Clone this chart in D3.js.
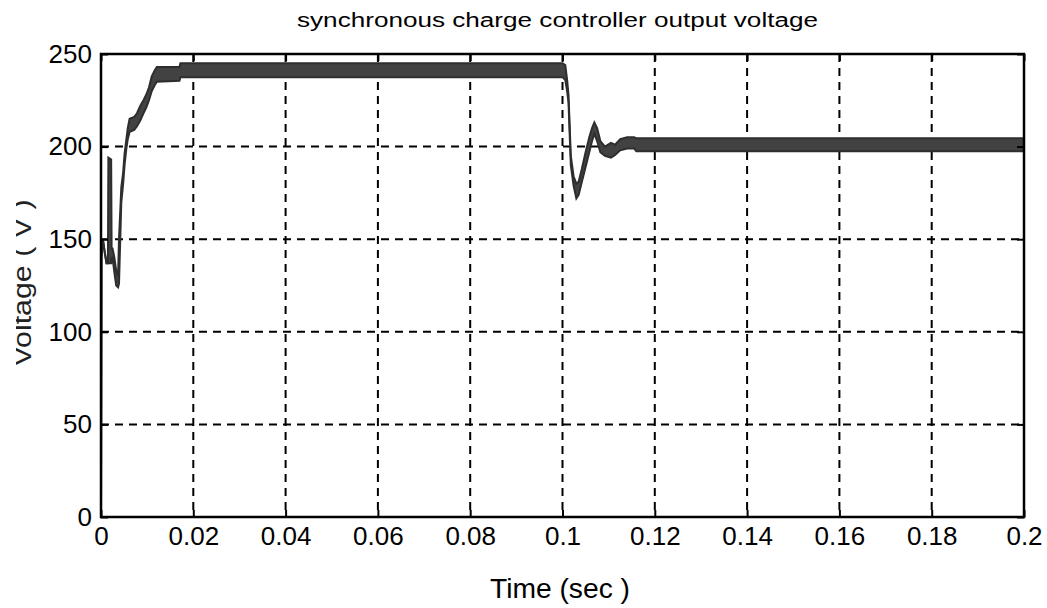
<!DOCTYPE html>
<html><head><meta charset="utf-8">
<script src="https://cdn.jsdelivr.net/npm/d3@7"></script>
<style>html,body{margin:0;padding:0;background:#fff;overflow:hidden}</style>
</head><body><svg id="c" width="1047" height="608"></svg>
<script>
const titleText = "synchronous charge controller output voltage";
const xLabelText = "Time (sec )";
const yLabelText = "Voltage ( V )";
const xTicks = [0, 0.02, 0.04, 0.06, 0.08, 0.1, 0.12, 0.14, 0.16, 0.18, 0.2];
const xTickLabels = ["0", "0.02", "0.04", "0.06", "0.08", "0.1", "0.12", "0.14", "0.16", "0.18", "0.2"];
const yTicks = [0, 50, 100, 150, 200, 250];
const yTickLabels = ["0", "50", "100", "150", "200", "250"];

// time (s) and upper / lower envelope of the output voltage (V)
const time = [0, 0.0001, 0.0004, 0.0008, 0.0012, 0.0015, 0.0016, 0.0022, 0.0023, 0.0025, 0.0029, 0.0033, 0.0037,
  0.0039, 0.0044, 0.0048, 0.0051, 0.0055, 0.0058, 0.0062, 0.0072, 0.0078, 0.0085, 0.0092, 0.0098, 0.0104, 0.0110,
  0.0116, 0.0121, 0.0170, 0.0172, 0.1000, 0.1006, 0.1010, 0.1013, 0.1018, 0.1024, 0.1030, 0.1035, 0.1042, 0.1050,
  0.1058, 0.1064, 0.1069, 0.1075, 0.1082, 0.1092, 0.1105, 0.1114, 0.1125, 0.1140, 0.1155, 0.1160, 0.2000];
const voltageHigh = [0, 140, 150, 143, 137, 137, 194, 193, 145, 145, 140, 133, 130,
  150, 178, 186, 196, 204, 210, 215, 216, 218, 222, 225, 228, 232, 238,
  241, 243, 243, 245, 245, 244, 236, 228, 195, 184, 180, 181, 188, 197,
  205, 210, 213, 210, 203, 200, 202, 201, 204, 205, 205, 204.5, 204.5];
const voltageLow = [0, 140, 150, 143, 137, 137, 137, 137, 140, 140, 132, 125, 124,
  126, 170, 180, 190, 199, 204, 208, 209, 211, 214, 218, 221, 225, 230,
  233, 235, 235.5, 237.5, 237.5, 236, 230, 224, 190, 179, 172, 174, 181, 189,
  197, 203, 207, 203, 197, 195, 194, 195.5, 198, 199, 199, 197.5, 197.5];

const svg = d3.select("#c");
const L = 101, R = 1024, T = 54, B = 517;
const x = d3.scaleLinear().domain([0, 0.2]).range([L, R]);
const y = d3.scaleLinear().domain([0, 250]).range([B, T]);
const font = "'Liberation Sans', Arial, sans-serif";

// grid
const g = svg.append("g");
g.selectAll(".vg").data(xTicks.filter(d => d > 0 && d < 0.2)).join("line")
  .attr("x1", d => x(d)).attr("x2", d => x(d)).attr("y1", T).attr("y2", B)
  .attr("stroke", "#000").attr("stroke-width", 2).attr("stroke-dasharray", "8,6");
g.selectAll(".hg").data(yTicks.filter(d => d > 0 && d < 250)).join("line")
  .attr("y1", d => y(d)).attr("y2", d => y(d)).attr("x1", L).attr("x2", R)
  .attr("stroke", "#000").attr("stroke-width", 2).attr("stroke-dasharray", "8,6");

// signal
svg.append("clipPath").attr("id", "pc").append("rect")
  .attr("x", L).attr("y", T).attr("width", R - L).attr("height", B - T);
const pts = time.map((t, i) => ({t, hi: voltageHigh[i], lo: voltageLow[i]}));
const sg = svg.append("g").attr("clip-path", "url(#pc)");
sg.append("path").datum(pts)
  .attr("d", d3.area().x(d => x(d.t)).y0(d => y(d.lo)).y1(d => y(d.hi)))
  .attr("fill", "#424242");
sg.append("path").datum(pts)
  .attr("d", d3.line().x(d => x(d.t)).y(d => y(d.hi)))
  .attr("fill", "none").attr("stroke", "#2e2e2e").attr("stroke-width", 2);
sg.append("path").datum(pts)
  .attr("d", d3.line().x(d => x(d.t)).y(d => y(d.lo)))
  .attr("fill", "none").attr("stroke", "#2e2e2e").attr("stroke-width", 2);

// axes
const xa = svg.append("g").attr("transform", `translate(0,${B})`)
  .call(d3.axisBottom(x).tickValues(xTicks).tickFormat((d, i) => xTickLabels[i]).tickSizeInner(-7).tickSizeOuter(0).tickPadding(10));
const xt = svg.append("g").attr("transform", `translate(0,${T})`)
  .call(d3.axisTop(x).tickValues(xTicks).tickFormat("").tickSizeInner(-7).tickSizeOuter(0));
const ya = svg.append("g").attr("transform", `translate(${L},0)`)
  .call(d3.axisLeft(y).tickValues(yTicks).tickFormat((d, i) => yTickLabels[i]).tickSizeInner(-7).tickSizeOuter(0).tickPadding(9));
const yr = svg.append("g").attr("transform", `translate(${R},0)`)
  .call(d3.axisRight(y).tickValues(yTicks).tickFormat("").tickSizeInner(-7).tickSizeOuter(0));
[xa, xt, ya, yr].forEach(a => {
  a.select(".domain").remove();
  a.selectAll("line").attr("stroke", "#000").attr("stroke-width", 2);
  a.selectAll("text").attr("font-family", font).attr("font-size", 26).attr("fill", "#000");
});
xa.selectAll("text").attr("dy", "0.71em");

// frame
svg.append("rect").attr("x", L).attr("y", T).attr("width", R - L).attr("height", B - T)
  .attr("fill", "none").attr("stroke", "#000").attr("stroke-width", 2.5);

// title and labels
svg.append("text").attr("x", 557.5).attr("y", 27).attr("text-anchor", "middle")
  .attr("font-family", font).attr("font-size", 20)
  .attr("textLength", 521).attr("lengthAdjust", "spacingAndGlyphs").text(titleText);
svg.append("text").attr("x", 560).attr("y", 598).attr("text-anchor", "middle")
  .attr("font-family", font).attr("font-size", 28)
  .attr("textLength", 140).attr("lengthAdjust", "spacingAndGlyphs").text(xLabelText);
svg.append("clipPath").attr("id", "lc").append("rect")
  .attr("x", 16).attr("y", 0).attr("width", 100).attr("height", 608);
svg.append("g").attr("clip-path", "url(#lc)").append("text")
  .attr("transform", "translate(31,283) rotate(-90)").attr("text-anchor", "middle")
  .attr("font-family", font).attr("font-size", 26).attr("fill", "#222")
  .attr("textLength", 167).attr("lengthAdjust", "spacingAndGlyphs").text(yLabelText);
</script></body></html>
